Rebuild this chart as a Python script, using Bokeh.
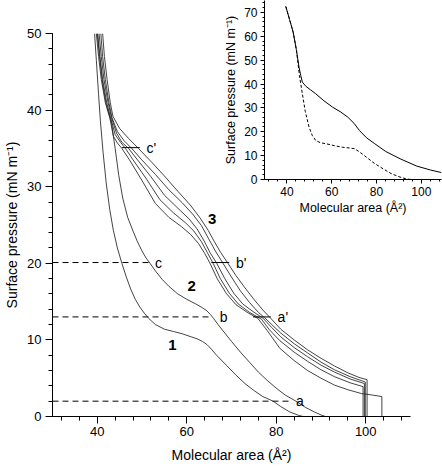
from bokeh.plotting import figure
from bokeh.models import Range1d, SingleIntervalTicker
from bokeh.embed import file_html
from bokeh.resources import INLINE
from bokeh.core.properties import value

FONT = "Liberation Sans"

# ---------------- data (main panel) ----------------
curve1_x = [39.4, 39.8, 40.3, 40.7, 41.3, 42.0, 42.8, 43.6, 44.5, 45.5, 46.5, 47.5, 48.5, 49.5, 50.5, 51.5,
            53.0, 55.0, 57.0, 59.0, 61.0, 62.5, 63.5, 64.5, 65.5, 66.5, 67.5, 69.0, 71.0, 73.0, 75.0, 77.0,
            79.3, 81.0, 83.0, 85.0, 86.0]
curve1_y = [50.0, 46.5, 42.0, 38.6, 34.5, 30.5, 27.0, 24.3, 22.0, 20.0, 18.2, 16.6, 15.3, 14.3, 13.5, 12.8,
            12.0, 11.4, 11.1, 10.8, 10.4, 10.1, 9.8, 9.4, 8.8, 8.1, 7.5, 6.6, 5.4, 4.3, 3.4, 2.6,
            2.0, 1.3, 0.6, 0.15, 0.0]

curve2_x = [40.0, 40.5, 41.2, 42.0, 43.2, 44.0, 44.8, 45.7, 46.8, 48.0, 49.0, 50.0, 50.9, 51.8, 53.0, 54.5,
            56.0, 58.0, 60.0, 62.0, 63.5, 64.5, 65.3, 66.0, 67.0, 68.5, 70.0, 72.0, 74.0, 76.0, 78.0, 80.0,
            82.0, 84.4, 86.5, 88.5, 90.0, 91.0]
curve2_y = [50.0, 47.0, 43.5, 40.8, 38.3, 35.0, 31.5, 28.5, 26.0, 24.2, 22.8, 21.6, 20.7, 20.0, 19.0, 17.9,
            17.0, 16.0, 15.3, 14.7, 14.2, 13.8, 13.3, 12.8, 12.0, 10.9, 9.8, 8.4, 7.1, 5.8, 4.7, 3.7,
            2.8, 2.0, 1.2, 0.6, 0.2, 0.0]

g3a_x = [41.2, 41.6, 42.2, 42.9, 43.5, 45.0, 47.0, 49.2, 52.0, 55.0, 58.0, 60.8, 63.0, 64.8, 66.2, 67.6,
         69.2, 71.0, 73.0, 75.0, 77.0, 78.8, 81.0, 84.0, 87.0, 90.0, 93.0, 96.0, 98.5, 100.3, 100.3]
g3a_y = [50.0, 47.0, 44.0, 41.0, 39.2, 37.6, 36.3, 35.0, 33.3, 31.4, 29.4, 27.6, 25.9, 24.3, 22.8, 21.4,
         20.0, 18.4, 16.8, 15.3, 13.9, 12.8, 11.4, 10.0, 8.7, 7.6, 6.6, 5.7, 5.1, 4.8, 0.0]

g3b_x = [40.8, 41.2, 41.8, 42.6, 43.3, 44.5, 46.0, 47.7, 49.8, 53.0, 56.0, 59.0, 61.5, 63.3, 64.9, 66.4,
         68.1, 70.0, 72.0, 74.0, 76.0, 77.4, 79.0, 81.0, 84.0, 87.0, 90.0, 93.0, 96.5, 99.9, 99.9]
g3b_y = [50.0, 47.0, 44.0, 41.0, 39.0, 37.2, 36.0, 35.0, 33.6, 31.6, 29.6, 27.9, 26.3, 24.9, 23.2, 21.6,
         20.0, 18.2, 16.4, 14.9, 13.6, 12.9, 12.0, 10.9, 9.5, 8.3, 7.1, 6.1, 5.2, 4.5, 0.0]

g3c_x = [40.4, 40.9, 41.5, 42.4, 43.2, 44.3, 45.5, 47.0, 49.0, 52.0, 55.0, 58.0, 60.5, 62.3, 63.9, 65.2,
         66.7, 68.5, 70.5, 72.5, 74.8, 77.1, 79.0, 81.0, 84.0, 87.0, 90.0, 93.0, 96.5, 99.7, 99.7]
g3c_y = [50.0, 47.0, 44.0, 41.0, 39.0, 37.0, 35.8, 35.0, 33.5, 31.3, 28.9, 27.2, 25.8, 24.5, 22.9, 21.4,
         20.0, 18.0, 16.1, 14.7, 13.7, 12.8, 11.6, 10.4, 9.0, 7.8, 6.7, 5.8, 4.9, 4.3, 0.0]

g3d_x = [40.1, 40.6, 41.2, 42.1, 43.0, 44.0, 45.2, 46.3, 48.0, 51.0, 54.0, 57.0, 59.7, 61.6, 63.3, 64.6,
         65.9, 67.5, 69.5, 71.5, 74.0, 76.7, 78.5, 80.8, 84.0, 87.0, 90.0, 93.0, 96.5, 99.4, 99.4]
g3d_y = [50.0, 47.0, 44.0, 41.0, 39.0, 36.8, 35.8, 35.0, 33.5, 31.0, 28.3, 26.6, 25.3, 24.2, 22.8, 21.4,
         20.0, 18.0, 16.1, 14.7, 13.6, 12.7, 11.3, 9.9, 8.4, 7.2, 6.1, 5.2, 4.4, 3.9, 0.0]

g3e_x = [39.8, 40.3, 40.9, 41.8, 42.8, 43.6, 44.5, 45.5, 47.2, 50.0, 53.0, 56.0, 58.8, 60.8, 62.6, 64.0,
         65.2, 66.8, 68.8, 71.0, 73.5, 75.9, 78.0, 80.8, 84.0, 87.0, 90.0, 93.0, 96.0, 99.0, 101.5, 103.6, 103.6]
g3e_y = [50.0, 47.0, 44.0, 41.0, 39.0, 36.6, 35.7, 35.0, 33.5, 30.8, 27.8, 26.0, 24.8, 23.8, 22.6, 21.3,
         20.0, 18.0, 16.1, 14.6, 13.6, 12.8, 11.2, 8.9, 7.3, 6.0, 5.0, 4.1, 3.5, 3.0, 2.8, 2.6, 0.0]

# dashed reference levels (a, b, c) and their ends
ref_levels = [2.0, 13.0, 20.1]
ref_ends = [83.4, 65.5, 51.8]
ref_labels = ["a", "b", "c"]
ref_label_x = [84.4, 67.4, 52.9]

# short solid marks (a', b', c')
mark_x = [76.8, 67.5, 47.5]
mark_y = [13.0, 20.1, 35.1]
mark_labels = ["a'", "b'", "c'"]

# curve numbers
num_labels = ["1", "2", "3"]
num_x = [56.8, 61.1, 65.7]
num_y = [9.3, 17.1, 25.8]

# ---------------- data (inset) ----------------
inset_solid_x = [39.5, 41.2, 42.8, 44.2, 45.4, 46.2, 46.9, 48.5, 50.5, 52.9, 56.5, 60.4, 64.0, 67.2, 70.0,
                 72.4, 75.5, 79.2, 84.0, 90.5, 98.0, 104.0, 109.0]
inset_solid_y = [72.5, 67.0, 61.7, 54.5, 47.1, 43.5, 40.8, 39.0, 37.6, 35.9, 33.0, 30.3, 28.3, 26.1, 23.5,
                 20.5, 17.5, 15.0, 11.8, 8.7, 5.6, 4.0, 2.9]
inset_dash_x = [39.5, 41.2, 42.8, 44.2, 44.8, 45.6, 46.9, 48.2, 49.9, 51.3, 52.9, 55.0, 57.4, 61.0, 64.9,
                68.0, 70.2, 72.5, 75.4, 79.0, 82.9, 86.5, 90.5, 93.5, 95.5]
inset_dash_y = [72.5, 67.0, 61.7, 54.5, 50.0, 43.5, 35.9, 28.5, 21.9, 18.5, 16.3, 15.4, 15.0, 14.2, 13.5,
                13.2, 12.9, 11.5, 9.4, 6.8, 4.5, 2.5, 1.0, 0.2, 0.0]

X_LABEL = "Molecular area (Å²)"
Y_LABEL = "Surface pressure (mN m⁻¹)"
LINE_COLOR = "#222222"


def style_axes(fig, tick_size, label_size, tick_out, minor_out, lab_stand, axlab_stand_x, axlab_stand_y):
    for ax in (fig.xaxis[0], fig.yaxis[0]):
        ax.axis_line_color = "black"
        ax.axis_line_width = 1
        ax.major_tick_line_color = "black"
        ax.minor_tick_line_color = "black"
        ax.major_tick_in = 0
        ax.minor_tick_in = 0
        ax.major_tick_out = tick_out
        ax.minor_tick_out = minor_out
        ax.major_label_text_font = FONT
        ax.major_label_text_font_size = tick_size
        ax.major_label_text_color = "black"
        ax.major_label_standoff = lab_stand
        ax.axis_label_text_font = FONT
        ax.axis_label_text_font_size = label_size
        ax.axis_label_text_font_style = "normal"
        ax.axis_label_text_color = "black"
    fig.xaxis[0].axis_label_standoff = axlab_stand_x
    fig.yaxis[0].axis_label_standoff = axlab_stand_y


# ---------------- main figure ----------------
p = figure(width=442, height=466, x_range=Range1d(30, 110), y_range=Range1d(0, 50),
           output_backend="svg", toolbar_location=None,
           min_border_left=52, min_border_right=32, min_border_top=33, min_border_bottom=50,
           x_axis_label=X_LABEL, y_axis_label=Y_LABEL)
p.outline_line_color = None
p.grid.visible = False
p.background_fill_color = "white"
p.xaxis.ticker = SingleIntervalTicker(interval=20, num_minor_ticks=5)
p.yaxis.ticker = SingleIntervalTicker(interval=10, num_minor_ticks=5)
style_axes(p, "13px", "14px", 7, 4, 3, 8, 4)
p.yaxis[0].major_label_standoff = 4

for xs, ys in [(curve1_x, curve1_y), (curve2_x, curve2_y), (g3a_x, g3a_y), (g3b_x, g3b_y),
               (g3c_x, g3c_y), (g3d_x, g3d_y), (g3e_x, g3e_y)]:
    p.line(xs, ys, line_color=LINE_COLOR, line_width=0.85)

x_start = p.x_range.start
p.segment(x0=[x_start] * len(ref_levels), y0=ref_levels, x1=ref_ends, y1=ref_levels,
          line_color="black", line_width=1, line_dash="6 4")
p.text(x=ref_label_x, y=ref_levels, text=ref_labels, text_font=value(FONT), text_font_size="14px",
       text_align="left", text_baseline="middle", text_color="black")

half = 2.0
p.segment(x0=[m - half for m in mark_x], y0=mark_y, x1=[m + half for m in mark_x], y1=mark_y,
          line_color="black", line_width=1)
p.text(x=[m + half + 1.5 for m in mark_x], y=mark_y, text=mark_labels, text_font=value(FONT),
       text_font_size="14px", text_align="left", text_baseline="middle", text_color="black")

p.text(x=num_x, y=num_y, text=num_labels, text_font=value(FONT), text_font_size="15px",
       text_font_style="bold", text_align="center", text_baseline="middle", text_color="black")

# ---------------- inset ----------------
ins = figure(width=224, height=218, x_range=Range1d(30, 109), y_range=Range1d(0, 75),
             output_backend="svg", toolbar_location=None,
             min_border_left=46, min_border_right=1, min_border_top=0, min_border_bottom=39,
             x_axis_label=X_LABEL, y_axis_label=Y_LABEL,
             styles={"position": "absolute", "left": "218px", "top": "0px", "z-index": "2"})
ins.outline_line_color = None
ins.grid.visible = False
ins.background_fill_alpha = 0
ins.border_fill_alpha = 0
ins.xaxis.ticker = SingleIntervalTicker(interval=20, num_minor_ticks=5)
ins.yaxis.ticker = SingleIntervalTicker(interval=10, num_minor_ticks=5)
style_axes(ins, "12px", "12.5px", 4, 2, 3, 2, 3)

ins.line(inset_solid_x, inset_solid_y, line_color="black", line_width=1)
ins.line(inset_dash_x, inset_dash_y, line_color="black", line_width=1, line_dash="3 2")

open("out.html", "w").write(file_html([p, ins], INLINE))
